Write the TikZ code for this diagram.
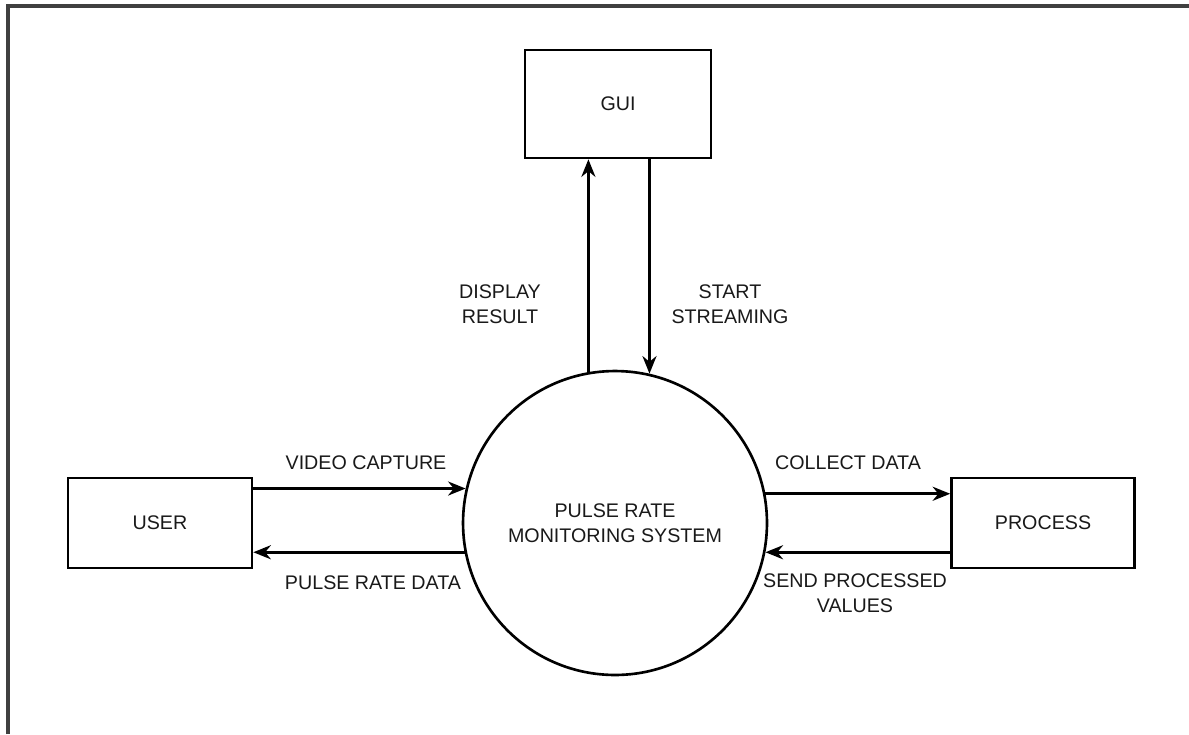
\documentclass[tikz,border=0pt]{standalone}
\usepackage{fontspec}
\setmainfont{Liberation Sans}
\usetikzlibrary{arrows.meta}

\tikzset{
  box/.style={draw, line width=1.5pt, minimum width=3.7cm, minimum height=1.8cm, inner sep=0pt, text=black!90},
  proc/.style={draw, circle, line width=1.5pt, minimum size=6.08cm, inner sep=0pt, align=center, text=black!90},
  flow/.style={line width=1.5pt, -{Stealth[length=10pt, width=8pt]}},
  tag/.style={align=center, text=black!90, inner sep=0pt}
}

\begin{document}
\begin{tikzpicture}[x=0.02cm, y=-0.02cm, font=\fontsize{11.2}{14}\selectfont]
	%%%%% FRAME %%%%%
	\useasboundingbox (0, 0) rectangle (1189, 734);
	\draw[line width=2.2pt, color=black!75] (8, 734) -- (8, 6) -- (1189, 6);

	%%%%% NODES %%%%%
	\node[box, minimum width=3.72cm, minimum height=2.16cm] (gui) at (618, 104) {GUI};
	\node[box, minimum width=3.68cm] (user) at (160, 523) {USER};
	\node[box, minimum width=3.66cm] (process) at (1043, 523) {PROCESS};
	\node[proc] (prms) at (615, 523) {PULSE RATE\\MONITORING SYSTEM};

	%%%%% FLOWS %%%%%
	\draw[flow] (user.east |- prms.167.85) -- (prms.167.85);
	\draw[flow] (prms.191.8) -- (user.east |- prms.191.8);
	\draw[flow] (prms.11.4) -- (process.west |- prms.11.4);
	\draw[flow] (process.west |- prms.-11.4) -- (prms.-11.4);
	\draw[flow] (prms.100.2) -- (prms.100.2 |- gui.south);
	\draw[flow] (prms.77.85 |- gui.south) -- (prms.77.85);

	%%%%% LABELS %%%%%
	\node[tag] (lvideo) at (366, 463) {VIDEO CAPTURE};
	\node[tag] (lpulse) at (373, 583) {PULSE RATE DATA};
	\node[tag] (lcollect) at (848, 463) {COLLECT DATA};
	\node[tag] (lsend) at (855, 593) {SEND PROCESSED\\VALUES};
	\node[tag] (ldisplay) at (500, 304) {DISPLAY\\RESULT};
	\node[tag] (lstart) at (730, 304) {START\\STREAMING};
\end{tikzpicture}
\end{document}
